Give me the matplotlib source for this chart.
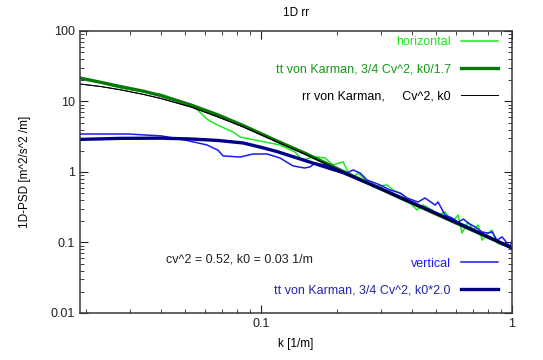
import matplotlib
matplotlib.use("Agg")
import matplotlib.pyplot as plt
from matplotlib.ticker import FixedLocator, FixedFormatter, LogLocator, NullFormatter

plt.rcParams['font.family'] = ['Liberation Sans', 'DejaVu Sans']

k_hor = [0.0190, 0.0277, 0.0400, 0.0502, 0.0556, 0.0610, 0.0674, 0.0774, 0.0825,
         0.0990, 0.1190, 0.1366, 0.1457, 0.1567, 0.1672, 0.1799, 0.1936, 0.2122,
         0.2222, 0.2326, 0.2435, 0.2795, 0.3178, 0.3357, 0.3680, 0.3924, 0.4183,
         0.4420, 0.4800, 0.5073, 0.5409, 0.5768, 0.6095, 0.6322, 0.6680, 0.7000,
         0.7324, 0.7599, 0.8029, 0.8329, 0.8710, 0.9125, 0.9553, 1.0, 1.076]
psd_hor = [22.0, 15.5, 12.6, 9.6, 7.7, 5.6, 4.6, 3.7, 3.14,
           2.75, 2.42, 1.92, 1.48, 1.58, 1.63, 1.58, 1.26, 1.39,
           1.00, 0.849, 0.968, 0.612, 0.655, 0.556, 0.472, 0.363, 0.289,
           0.340, 0.290, 0.245, 0.271, 0.195, 0.245, 0.136, 0.195, 0.150,
           0.177, 0.108, 0.136, 0.150, 0.0984, 0.092, 0.0984, 0.0836, 0.0783]

k_ver = [0.0190, 0.0295, 0.0400, 0.0498, 0.0609, 0.0674, 0.0706, 0.0825, 0.0929,
         0.1057, 0.1190, 0.1340, 0.1490, 0.1567, 0.1641, 0.1883, 0.2201, 0.2326,
         0.2480, 0.2645, 0.2980, 0.3266, 0.3580, 0.3818, 0.4222, 0.4502, 0.4934,
         0.5073, 0.5409, 0.5768, 0.6095, 0.6400, 0.6680, 0.7126, 0.7599, 0.8029,
         0.8329, 0.8710, 0.9125, 0.9553, 0.9800, 1.0]
psd_ver = [3.46, 3.46, 3.25, 2.84, 2.42, 2.04, 1.69, 1.63, 1.80,
           1.80, 1.58, 1.22, 1.14, 1.18, 1.34, 1.22, 0.968, 1.07,
           0.968, 0.770, 0.655, 0.556, 0.504, 0.428, 0.375, 0.428, 0.340,
           0.375, 0.245, 0.223, 0.195, 0.215, 0.189, 0.166, 0.141, 0.136,
           0.141, 0.108, 0.120, 0.0984, 0.0863, 0.105]

# von Karman model curves
k_tt1 = [0.0190, 0.0230, 0.0277, 0.0340, 0.0400, 0.0526, 0.0674, 0.0850, 0.1158,
         0.1500, 0.2122, 0.3500, 0.6000, 1.0]
psd_tt1 = [21.5, 18.7, 16.2, 14.0, 12.1, 8.91, 6.44, 4.55, 2.75,
           1.84, 1.02, 0.445, 0.188, 0.0836]

k_rr = [0.0190, 0.0230, 0.0277, 0.0340, 0.0400, 0.0526, 0.0674, 0.0850, 0.1158,
        0.1500, 0.2122, 0.3500, 0.6000, 1.0]
psd_rr = [17.7, 16.3, 14.6, 12.6, 11.0, 8.35, 6.03, 4.34, 2.67,
          1.78, 1.00, 0.445, 0.188, 0.0836]

k_tt2 = [0.0190, 0.0277, 0.0400, 0.0526, 0.0674, 0.0848, 0.1000, 0.1158, 0.1567,
         0.2122, 0.3000, 0.4500, 0.6500, 1.0]
psd_tt2 = [2.90, 3.00, 3.02, 2.94, 2.80, 2.58, 2.24, 1.95, 1.38,
           0.98, 0.58, 0.305, 0.170, 0.0836]

fig = plt.figure(figsize=(5.43, 3.60), dpi=100)
ax = fig.add_axes([0.1473, 0.1306, 0.7957, 0.7833])

l1, = ax.plot(k_hor, psd_hor, color='#1ee81e', lw=1.1, label='horizontal')
l2, = ax.plot(k_tt1, psd_tt1, color='#087808', lw=2.4, label='tt von Karman, 3/4 Cv^2, k0/1.7')
l3, = ax.plot(k_rr, psd_rr, color='black', lw=0.7, label='rr von Karman,     Cv^2, k0')
l4, = ax.plot(k_ver, psd_ver, color='#1a1aee', lw=1.1, label='vertical')
l5, = ax.plot(k_tt2, psd_tt2, color='#000088', lw=2.4, label='tt von Karman, 3/4 Cv^2, k0*2.0')
# black model drawn on top like gnuplot output
ax.plot(k_rr, psd_rr, color='black', lw=0.7)

ax.set_xscale('log')
ax.set_yscale('log')
ax.set_xlim(0.019, 1.0)
ax.set_ylim(0.01, 100)

ax.xaxis.set_major_locator(FixedLocator([0.1, 1]))
ax.xaxis.set_major_formatter(FixedFormatter(['0.1', '1']))
ax.yaxis.set_major_locator(FixedLocator([0.01, 0.1, 1, 10, 100]))
ax.yaxis.set_major_formatter(FixedFormatter(['0.01', '0.1', '1', '10', '100']))
ax.xaxis.set_minor_locator(LogLocator(base=10, subs=range(2, 10)))
ax.yaxis.set_minor_locator(LogLocator(base=10, subs=range(2, 10)))
ax.xaxis.set_minor_formatter(NullFormatter())
ax.yaxis.set_minor_formatter(NullFormatter())
ax.tick_params(which='both', direction='in', top=True, right=True, labelsize=9, colors='#202020')
ax.tick_params(which='major', length=5.5, width=0.8)
ax.tick_params(which='minor', length=3, width=0.6)
for s in ax.spines.values():
    s.set_linewidth(1.1)
    s.set_color('#383838')

ax.set_title('1D rr', fontsize=8.5, pad=11)
ax.set_xlabel('k [1/m]', fontsize=8.5, labelpad=6)
ax.set_ylabel('1D-PSD [m^2/s^2 /m]', fontsize=8.5, labelpad=14)

leg1 = ax.legend(handles=[l1, l2, l3], loc='upper right', bbox_to_anchor=(0.968, 0.982),
                 frameon=False, markerfirst=False, fontsize=9, handlelength=3.0,
                 handletextpad=0.8, labelspacing=1.2, borderpad=0, borderaxespad=0,
                 labelcolor=['#1ee81e', '#139a13', 'black'])
ax.add_artist(leg1)
ax.legend(handles=[l4, l5], loc='lower right', bbox_to_anchor=(0.968, 0.058),
          frameon=False, markerfirst=False, fontsize=9, handlelength=3.0,
          handletextpad=0.8, labelspacing=1.2, borderpad=0, borderaxespad=0,
          labelcolor=['#1a1aee', '#2424aa'])

ax.text(0.199, 0.191, 'cv^2 = 0.52, k0 = 0.03 1/m', transform=ax.transAxes,
        fontsize=9, va='center', ha='left', color='#202020')

plt.savefig('out.png', dpi=100)
